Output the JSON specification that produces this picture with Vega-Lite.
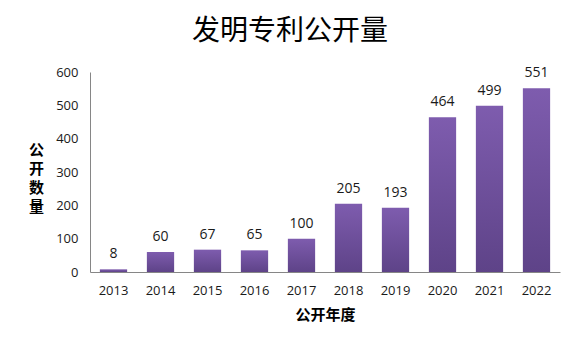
{
  "$schema": "https://vega.github.io/schema/vega-lite/v6.json",
  "autosize": "none",
  "width": 470,
  "height": 200,
  "padding": {"left": 90, "top": 72, "right": 23, "bottom": 85},
  "background": "white",
  "title": {
    "text": "发明专利公开量",
    "font": "Noto Sans CJK SC",
    "fontSize": 28,
    "fontWeight": "normal",
    "color": "#000000",
    "anchor": "middle",
    "dx": -35,
    "offset": 20
  },
  "data": {
    "values": [
      {"year": "2013", "count": 8},
      {"year": "2014", "count": 60},
      {"year": "2015", "count": 67},
      {"year": "2016", "count": 65},
      {"year": "2017", "count": 100},
      {"year": "2018", "count": 205},
      {"year": "2019", "count": 193},
      {"year": "2020", "count": 464},
      {"year": "2021", "count": 499},
      {"year": "2022", "count": 551}
    ]
  },
  "encoding": {
    "x": {
      "field": "year",
      "type": "nominal",
      "sort": null,
      "scale": {"paddingInner": 0.42, "paddingOuter": 0.21},
      "axis": {
        "title": "公开年度",
        "titleFont": "Noto Sans CJK SC",
        "titleFontSize": 15,
        "titleFontWeight": "bold",
        "titleColor": "#000000",
        "titlePadding": 10,
        "labelAngle": 0,
        "labelFont": "Open Sans",
        "labelFontSize": 13,
        "labelColor": "#1a1a1a",
        "labelPadding": 12,
        "ticks": false,
        "domainColor": "#868686",
        "grid": false
      }
    },
    "y": {
      "field": "count",
      "type": "quantitative",
      "scale": {"domain": [0, 600], "nice": false},
      "axis": {
        "values": [0, 100, 200, 300, 400, 500, 600],
        "title": ["公", "开", "数", "量"],
        "titleAngle": 0,
        "titleX": -54,
        "titleY": 77,
        "titleAlign": "center",
        "titleBaseline": "middle",
        "titleLineHeight": 19,
        "titleFont": "Noto Sans CJK SC",
        "titleFontSize": 15,
        "titleFontWeight": "bold",
        "titleColor": "#000000",
        "labelFont": "Open Sans",
        "labelFontSize": 13,
        "labelColor": "#1a1a1a",
        "labelPadding": 12,
        "ticks": false,
        "domainColor": "#868686",
        "grid": false
      }
    }
  },
  "layer": [
    {
      "mark": {
        "type": "bar",
        "color": {
          "gradient": "linear",
          "x1": 0, "y1": 0, "x2": 0, "y2": 1,
          "stops": [
            {"offset": 0, "color": "#7e5cae"},
            {"offset": 1, "color": "#5e4388"}
          ]
        }
      }
    },
    {
      "mark": {
        "type": "text",
        "baseline": "bottom",
        "dy": -8,
        "font": "Open Sans",
        "fontSize": 14,
        "color": "#1a1a1a"
      },
      "encoding": {"text": {"field": "count", "type": "quantitative"}}
    }
  ],
  "config": {"view": {"stroke": null}}
}
